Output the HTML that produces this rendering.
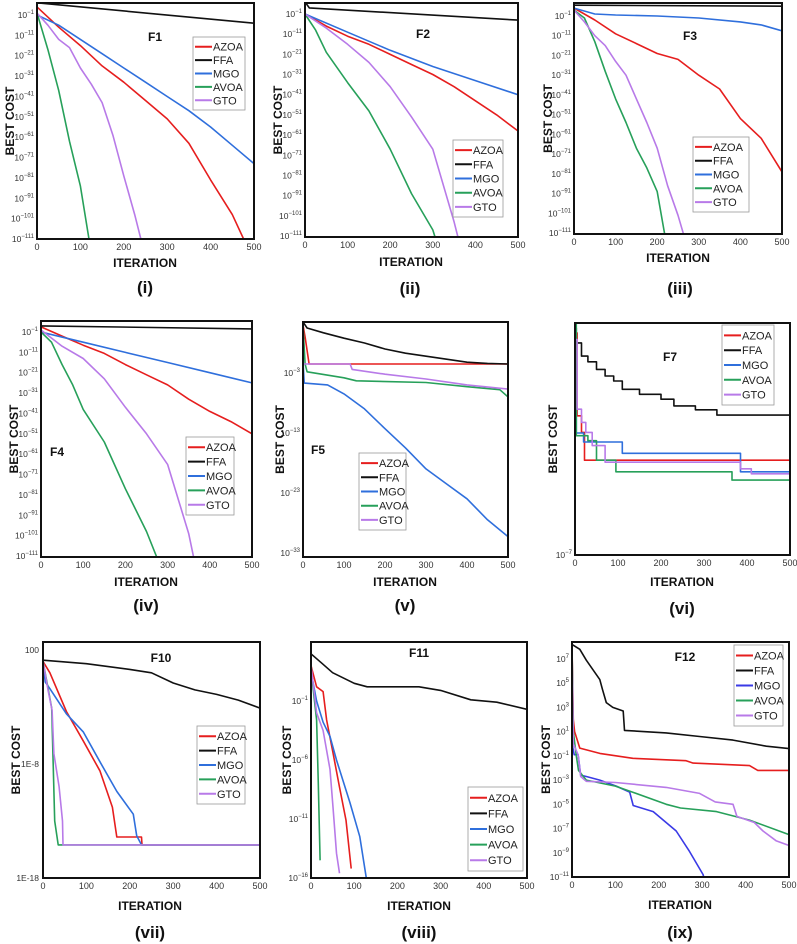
<!DOCTYPE html>
<html><head><meta charset="utf-8">
<style>
html,body{margin:0;padding:0;background:#fff;}
svg{display:block;font-family:"Liberation Sans",Arial,sans-serif;}
</style></head>
<body>
<svg id="fig" width="797" height="944" viewBox="0 0 797 944" xmlns="http://www.w3.org/2000/svg"></svg>
<script>
// ---- shared ----
const seriesNames = ["AZOA","FFA","MGO","AVOA","GTO"];
const xTicks = [0,100,200,300,400,500];

// ---- F1 (log10 best cost) ----
const f1_azoa_x = [0,50,100,150,200,250,300,350,400,450,500];
const f1_azoa_y = [3,-7,-16,-26,-34,-43,-52,-64,-82,-99,-122];
const f1_ffa_x = [0,500];
const f1_ffa_y = [5,-5];
const f1_mgo_x = [0,50,100,150,200,250,300,350,400,450,500];
const f1_mgo_y = [-1,-6,-13,-20,-27,-34,-41,-48,-56,-65,-74];
const f1_avoa_x = [0,25,50,75,100,125];
const f1_avoa_y = [0,-18,-38,-63,-85,-118];
const f1_gto_x = [0,25,50,75,100,125,150,175,200,225,250];
const f1_gto_y = [0,-6,-13,-17,-27,-35,-44,-60,-80,-99,-120];
// ---- F2 ----
const f2_azoa_x = [0,50,100,150,200,250,300,350,400,450,500];
const f2_azoa_y = [-1,-7,-12,-16,-21,-26,-31,-37,-44,-51,-59];
const f2_ffa_x = [0,10,500];
const f2_ffa_y = [5,2,-4];
const f2_mgo_x = [0,100,200,300,400,500];
const f2_mgo_y = [-1,-10,-19,-27,-34,-41];
const f2_avoa_x = [0,25,50,100,150,200,250,300,325];
const f2_avoa_y = [-1,-9,-20,-35,-49,-68,-90,-108,-125];
const f2_gto_x = [0,50,100,150,200,250,300,350,375];
const f2_gto_y = [-1,-8,-16,-25,-37,-52,-68,-104,-125];
// ---- F3 ----
const f3_azoa_x = [0,50,100,150,200,250,300,350,400,450,500];
const f3_azoa_y = [3,-3,-10,-15,-20,-23,-31,-38,-53,-63,-80];
const f3_ffa_x = [0,500];
const f3_ffa_y = [4.5,4];
const f3_mgo_x = [0,50,100,200,300,400,450,500];
const f3_mgo_y = [3,0,-0.5,-1,-2,-4,-5.5,-8.5];
const f3_avoa_x = [0,25,50,75,100,125,150,175,200,225];
const f3_avoa_y = [2,-2,-14,-29,-43,-55,-68,-78,-90,-120];
const f3_gto_x = [0,25,50,75,100,125,150,175,200,225,250,275];
const f3_gto_y = [2,-4,-11,-16,-24,-31,-43,-55,-68,-87,-102,-120];
// ---- F4 ----
const f4_azoa_x = [0,50,100,150,200,250,300,350,400,450,500];
const f4_azoa_y = [1.5,-3,-7.5,-11.5,-17,-22,-27,-34,-40,-45,-51];
const f4_ffa_x = [0,500];
const f4_ffa_y = [2,0.5];
const f4_mgo_x = [0,100,200,300,400,500];
const f4_mgo_y = [-1,-6,-11,-16,-21,-26];
const f4_avoa_x = [0,25,50,75,100,150,200,250,275,300];
const f4_avoa_y = [-1,-6,-17,-27,-39,-55,-78,-99,-112,-125];
const f4_gto_x = [0,50,100,150,200,250,300,350,375];
const f4_gto_y = [0,-8,-14,-24,-38,-51,-66,-100,-125];
// ---- F5 ----
const f5_azoa_x = [0,5,15,500];
const f5_azoa_y = [5,3,-1.5,-1.5];
const f5_ffa_x = [0,10,50,100,150,200,250,300,350,400,450,500];
const f5_ffa_y = [5.5,4.5,3.7,2.8,2,1,0.3,-0.2,-0.7,-1.2,-1.4,-1.5];
const f5_mgo_x = [0,3,60,100,150,200,250,300,350,400,450,500];
const f5_mgo_y = [-1,-4.7,-5,-6.5,-9,-12.3,-15.5,-19,-21.5,-24,-27.5,-30.3];
const f5_avoa_x = [0,5,10,100,130,300,400,480,500];
const f5_avoa_y = [5,-1.5,-2.8,-3.8,-4.3,-4.6,-5.3,-5.8,-7];
const f5_gto_x = [0,115,120,200,300,400,500];
const f5_gto_y = [-1.5,-1.5,-2.4,-3.2,-4.0,-5.0,-5.7];
// ---- F7 (step curves) ----
const f7_azoa_x = [0,5,15,22,500];
const f7_azoa_y = [-0.3,-2.8,-3.3,-4.14,-4.14];
const f7_ffa_x = [0,3,15,30,50,70,90,110,150,200,230,280,330,500];
const f7_ffa_y = [-0.15,-0.6,-1.0,-1.17,-1.4,-1.6,-1.75,-2.0,-2.15,-2.3,-2.5,-2.62,-2.78,-2.78];
const f7_mgo_x = [0,3,20,110,385,500];
const f7_mgo_y = [-1.5,-3.32,-3.59,-3.93,-4.49,-4.49];
const f7_avoa_x = [0,3,30,50,95,365,500];
const f7_avoa_y = [0,-3.4,-3.55,-4.14,-4.49,-4.74,-4.74];
const f7_gto_x = [0,5,15,25,40,70,385,410,500];
const f7_gto_y = [-0.5,-2.6,-3.0,-3.3,-3.7,-4.2,-4.4,-4.55,-4.55];
// ---- F10 ----
const f10_azoa_x = [0,16,54,93,131,160,170,227,228,500];
const f10_azoa_y = [1,0,-3.4,-6,-8.6,-11.8,-14.4,-14.4,-15.1,-15.1];
const f10_ffa_x = [0,100,200,250,300,350,400,450,500];
const f10_ffa_y = [1.1,0.8,0.3,0,-0.9,-1.5,-1.9,-2.4,-3.1];
const f10_mgo_x = [0,5,16,54,93,131,170,208,216,227,500];
const f10_mgo_y = [1,-0.8,-1.4,-3.6,-5.2,-7.8,-10.4,-12.4,-14.3,-15.1,-15.1];
const f10_avoa_x = [0,10,20,27,35,500];
const f10_avoa_y = [1,-1,-3.1,-13,-15.1,-15.1];
const f10_gto_x = [0,12,21,25,37,45,46,500];
const f10_gto_y = [1,-1.6,-3.3,-7.1,-10,-13,-15.1,-15.1];
// ---- F11 ----
const f11_azoa_x = [0,13,28,36,51,66,81,93];
const f11_azoa_y = [2,0.2,-0.2,-2.6,-5.4,-8.3,-11.1,-15.2];
const f11_ffa_x = [0,25,50,100,130,250,300,370,430,500];
const f11_ffa_y = [3,2.2,1.4,0.5,0.2,0.2,-0.1,-0.9,-1.1,-1.7];
const f11_mgo_x = [0,13,28,44,59,90,113,128];
const f11_mgo_y = [1.5,-1,-2.8,-4,-6,-9.6,-12.5,-16];
const f11_avoa_x = [0,5,13,17,21];
const f11_avoa_y = [2,0,-2.6,-8,-14.5];
const f11_gto_x = [0,13,28,44,51,59,66];
const f11_gto_y = [2,-2,-3.5,-6.8,-10,-13.9,-15.6];
// ---- F12 ----
const f12_azoa_x = [0,3,6,18,64,140,263,279,409,428,500];
const f12_azoa_y = [8,2,1,-0.36,-0.8,-1.2,-1.4,-1.6,-1.8,-2.2,-2.2];
const f12_ffa_x = [0,18,33,64,70,79,94,118,121,217,294,371,448,500];
const f12_ffa_y = [8.2,7.8,6.9,5.3,4.5,3.4,3.0,2.7,1.1,0.9,0.6,0.3,-0.2,-0.4];
const f12_mgo_x = [0,5,14,20,33,64,102,133,141,187,240,271,302,310];
const f12_mgo_y = [0,-0.9,-0.9,-2.6,-2.7,-3.0,-3.5,-4.0,-5.1,-5.6,-7.2,-8.9,-10.8,-12];
const f12_avoa_x = [0,3,10,15,33,100,140,217,250,333,409,500];
const f12_avoa_y = [8,1,-1,-2.2,-3.0,-3.5,-4.0,-5.0,-5.3,-5.6,-6.3,-7.5];
const f12_gto_x = [0,3,14,20,33,100,217,294,330,371,380,420,440,470,500];
const f12_gto_y = [8,0,-0.9,-2.7,-3.1,-3.2,-3.6,-4.1,-4.8,-5.0,-6.0,-6.5,-7.2,-8.0,-8.4];

const NS = "http://www.w3.org/2000/svg";
const svg = document.getElementById("fig");
const COL = {AZOA:"#e61e1e",FFA:"#111",MGO:"#2f6fdc",AVOA:"#27a05a",GTO:"#b87ae8"};

function mk(tag, attrs, parent){
  const e = document.createElementNS(NS, tag);
  for (const k in attrs) e.setAttribute(k, attrs[k]);
  (parent||svg).appendChild(e);
  return e;
}
function powLabel(parent, x, y, exp, name){
  const t = mk("text",{x:x,y:y,"text-anchor":"end","font-size":"8.5",fill:"#333"},parent);
  
  
  const a = mk("tspan",{},t); a.textContent = "10";
  const b = mk("tspan",{dy:"-4","font-size":"6"},t); b.textContent = exp;
  return t;
}

const panels = [
 {id:"f1",title:"F1",box:[37,3,254,239],ymin:-111,ymax:4.9,ticks:[-1,-11,-21,-31,-41,-51,-61,-71,-81,-91,-101,-111],tt:[155,41,"middle"],leg:[193,37,52,73],yl:10,xl:[145,267],pl:["(i)",145,293],
  data:{AZOA:[f1_azoa_x,f1_azoa_y],FFA:[f1_ffa_x,f1_ffa_y],MGO:[f1_mgo_x,f1_mgo_y],AVOA:[f1_avoa_x,f1_avoa_y],GTO:[f1_gto_x,f1_gto_y]}},
 {id:"f2",title:"F2",box:[305,3,518,237],ymin:-111.5,ymax:4.45,ticks:[-1,-11,-21,-31,-41,-51,-61,-71,-81,-91,-101,-111],tt:[423,38,"middle"],leg:[453,140,50,77],yl:278,xl:[411,266],pl:["(ii)",410,294],
  data:{AZOA:[f2_azoa_x,f2_azoa_y],FFA:[f2_ffa_x,f2_ffa_y],MGO:[f2_mgo_x,f2_mgo_y],AVOA:[f2_avoa_x,f2_avoa_y],GTO:[f2_gto_x,f2_gto_y]}},
 {id:"f3",title:"F3",box:[574,3,782,234],ymin:-111.5,ymax:5.6,ticks:[-1,-11,-21,-31,-41,-51,-61,-71,-81,-91,-101,-111],tt:[690,40,"middle"],leg:[693,137,56,75],yl:548,xl:[678,262],pl:["(iii)",680,294],
  data:{AZOA:[f3_azoa_x,f3_azoa_y],FFA:[f3_ffa_x,f3_ffa_y],MGO:[f3_mgo_x,f3_mgo_y],AVOA:[f3_avoa_x,f3_avoa_y],GTO:[f3_gto_x,f3_gto_y]}},
 {id:"f4",title:"F4",box:[41,321,252,557],ymin:-111.5,ymax:4.4,ticks:[-1,-11,-21,-31,-41,-51,-61,-71,-81,-91,-101,-111],tt:[50,456,"start"],leg:[186,437,48,78],yl:14,xl:[146,586],pl:["(iv)",146,611],
  data:{AZOA:[f4_azoa_x,f4_azoa_y],FFA:[f4_ffa_x,f4_ffa_y],MGO:[f4_mgo_x,f4_mgo_y],AVOA:[f4_avoa_x,f4_avoa_y],GTO:[f4_gto_x,f4_gto_y]}},
 {id:"f5",title:"F5",box:[303,322,508,557],ymin:-33.7,ymax:5.5,ticks:[-3,-13,-23,-33],tt:[311,454,"start"],leg:[359,453,47,77],yl:280,xl:[405,586],pl:["(v)",405,611],
  data:{AZOA:[f5_azoa_x,f5_azoa_y],FFA:[f5_ffa_x,f5_ffa_y],MGO:[f5_mgo_x,f5_mgo_y],AVOA:[f5_avoa_x,f5_avoa_y],GTO:[f5_gto_x,f5_gto_y]}},
 {id:"f7",title:"F7",box:[575,323,790,555],ymin:-7,ymax:0,ticks:[-7],step:true,tt:[670,361,"middle"],leg:[722,325,52,80],yl:553,xl:[682,586],pl:["(vi)",682,614],
  data:{AZOA:[f7_azoa_x,f7_azoa_y],FFA:[f7_ffa_x,f7_ffa_y],MGO:[f7_mgo_x,f7_mgo_y],AVOA:[f7_avoa_x,f7_avoa_y],GTO:[f7_gto_x,f7_gto_y]}},
 {id:"f10",title:"F10",box:[43,642,260,878],ymin:-18,ymax:2.7,ticks:[2,-8,-18],tlab:["100","1E-8","1E-18"],tt:[161,662,"middle"],leg:[197,726,48,78],yl:16,xl:[150,910],pl:["(vii)",150,938],
  data:{AZOA:[f10_azoa_x,f10_azoa_y],FFA:[f10_ffa_x,f10_ffa_y],MGO:[f10_mgo_x,f10_mgo_y],AVOA:[f10_avoa_x,f10_avoa_y],GTO:[f10_gto_x,f10_gto_y]}},
 {id:"f11",title:"F11",box:[311,642,527,878],ymin:-16,ymax:4,ticks:[-1,-6,-11,-16],tt:[419,657,"middle"],leg:[468,787,55,84],yl:287,xl:[419,910],pl:["(viii)",419,938],
  data:{AZOA:[f11_azoa_x,f11_azoa_y],FFA:[f11_ffa_x,f11_ffa_y],MGO:[f11_mgo_x,f11_mgo_y],AVOA:[f11_avoa_x,f11_avoa_y],GTO:[f11_gto_x,f11_gto_y]}},
 {id:"f12",title:"F12",box:[572,642,789,877],ymin:-11,ymax:8.4,ticks:[7,5,3,1,-1,-3,-5,-7,-9,-11],tt:[685,661,"middle"],leg:[734,645,49,81],yl:546,xl:[680,909],pl:["(ix)",680,938],
  colors:{MGO:"#3a3ae6"},
  data:{AZOA:[f12_azoa_x,f12_azoa_y],FFA:[f12_ffa_x,f12_ffa_y],MGO:[f12_mgo_x,f12_mgo_y],AVOA:[f12_avoa_x,f12_avoa_y],GTO:[f12_gto_x,f12_gto_y]}}
];

panels.forEach(p => {
  const [L,T,R,B] = p.box;
  const g = mk("g",{});
  
  
  const xs = v => L + (v/500)*(R-L);
  const ys = v => T + (p.ymax - v)/(p.ymax - p.ymin)*(B-T);
  const cp = mk("clipPath",{id:"clip-"+p.id},g);
  mk("rect",{x:L,y:T,width:R-L,height:B-T},cp);
  // series
  const order = ["AZOA","FFA","MGO","AVOA","GTO"];
  order.forEach(s => {
    const xa = p.data[s][0], ya = p.data[s][1];
    let d = "";
    for (let i=0;i<xa.length;i++){
      if (i===0) d += "M"+xs(xa[i]).toFixed(1)+","+ys(ya[i]).toFixed(1);
      else {
        if (p.step) d += "L"+xs(xa[i]).toFixed(1)+","+ys(ya[i-1]).toFixed(1);
        d += "L"+xs(xa[i]).toFixed(1)+","+ys(ya[i]).toFixed(1);
      }
    }
    const col = (p.colors && p.colors[s]) || COL[s];
    const path = mk("path",{d:d,fill:"none",stroke:col,"stroke-width":"1.6","stroke-linejoin":"round","clip-path":"url(#clip-"+p.id+")"},g);
    
    
  });
  // frame
  const fr = mk("rect",{x:L,y:T,width:R-L,height:B-T,fill:"none",stroke:"#111","stroke-width":"2"},g);
  
  
  // y ticks
  p.ticks.forEach((tv,i) => {
    const y = ys(tv) + 3;
    if (p.tlab){
      const t = mk("text",{x:L-4,y:y,"text-anchor":"end","font-size":"8.5",fill:"#333"},g);
      t.textContent = p.tlab[i];
      
      
    } else {
      powLabel(g, L-3, y, String(tv).replace("-","\u2212"), p.id + '-y-tick-label');
    }
  });
  // x ticks
  xTicks.forEach(tv => {
    const t = mk("text",{x:xs(tv),y:B+11,"text-anchor":"middle","font-size":"9",fill:"#333"},g);
    t.textContent = tv;
    
    
  });
  // axis titles
  const xt = mk("text",{x:p.xl[0],y:p.xl[1],"text-anchor":"middle","font-size":"12","font-weight":"bold",fill:"#111"},g);
  xt.textContent = "ITERATION";
  
  
  const cy = (T+B)/2;
  const yt = mk("text",{x:p.yl,y:cy,"text-anchor":"middle","font-size":"12","font-weight":"bold",fill:"#111",transform:"rotate(-90 "+p.yl+" "+cy+")",dy:"4"},g);
  yt.textContent = "BEST COST";
  
  
  // function title
  const ft = mk("text",{x:p.tt[0],y:p.tt[1],"text-anchor":p.tt[2],"font-size":"12","font-weight":"bold",fill:"#111"},g);
  ft.textContent = p.title;
  
  
  // panel label
  const pl = mk("text",{x:p.pl[1],y:p.pl[2],"text-anchor":"middle","font-size":"17","font-weight":"bold",fill:"#111"},g);
  pl.textContent = p.pl[0];
  
  
  // legend
  const [lx,ly,lw,lh] = p.leg;
  const lg = mk("g",{},g);
  
  
  const lb = mk("rect",{x:lx,y:ly,width:lw,height:lh,fill:"#fff",stroke:"#999","stroke-width":"0.8"},lg);
  
  
  const step = (lh-6)/5;
  seriesNames.forEach((s,i) => {
    const yy = ly + 3 + step*(i+0.5);
    const col = (p.colors && p.colors[s]) || COL[s];
    const ln = mk("line",{x1:lx+2,y1:yy,x2:lx+19,y2:yy,stroke:col,"stroke-width":"2"},lg);
    
    
    const tx = mk("text",{x:lx+20,y:yy+4,"font-size":"11",fill:"#222"},lg);
    tx.textContent = s;
    
    
  });
});
</script>
</body></html>
